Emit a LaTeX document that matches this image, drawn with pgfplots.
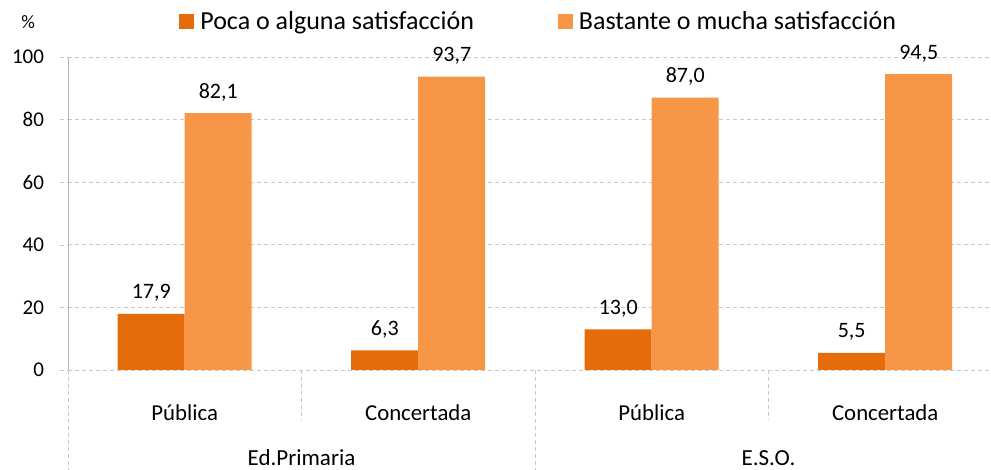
\documentclass[border=0pt]{standalone}
\usepackage{fontspec}
\setmainfont{Carlito}
\usepackage{pgfplots}
\pgfplotsset{compat=1.18}
\definecolor{poca}{RGB}{228,108,10}
\definecolor{mucha}{RGB}{247,150,70}
\definecolor{rejilla}{RGB}{200,200,200}
\definecolor{ejegris}{RGB}{180,180,180}
\tikzset{guiones/.style={dash pattern=on 2pt off 1.5pt}}

\begin{document}
\begin{tikzpicture}
\begin{axis}[
  name=ax,
  scale only axis,
  width=461.5pt, height=156.5pt,
  xmin=-0.5, xmax=3.453, ymin=0, ymax=100,
  clip=false,
  ybar=0pt, bar width=33.5pt,
  axis x line*=bottom, axis y line*=left,
  x axis line style={rejilla, guiones},
  y axis line style={ejegris},
  xtick={0,1,2,3},
  xticklabels={Pública,Concertada,Pública,Concertada},
  xtick style={draw=none},
  x tick label style={font=\fontsize{11.4}{13}\selectfont, anchor=base, yshift=-21.5pt},
  ytick={0,20,...,100},
  ymajorgrids, grid style={rejilla, guiones},
  ytick style={rejilla, guiones},
  tick align=outside, major tick length=4pt,
  y tick label style={font=\fontsize{10.5}{12}\selectfont, xshift=-4.5pt},
  /pgf/number format/assume math mode=true,
  nodes near coords={\pgfmathprintnumber[fixed,fixed zerofill,precision=1,use comma,assume math mode=true]{\pgfplotspointmeta}},
  nodes near coords style={font=\fontsize{11}{13}\selectfont, anchor=base, yshift=7.5pt, text=black},
  legend columns=2,
  legend style={at={(rel axis cs:0.511,1.112)}, anchor=center, draw=none,
    font=\fontsize{13}{15}\selectfont,
    /tikz/every odd column/.append style={column sep=1pt},
    /tikz/every even column/.append style={column sep=40pt}},
  legend cell align=left,
]
\addplot[fill=poca, draw=none,
  legend image code/.code={\fill[poca] (0pt,-3.75pt) rectangle (7.5pt,3.75pt);}]
  coordinates {(0,17.9) (1,6.3) (2,13.0) (3,5.5)};
\addplot[fill=mucha, draw=none,
  legend image code/.code={\fill[mucha] (0pt,-3.75pt) rectangle (7.5pt,3.75pt);}]
  coordinates {(0,82.1) (1,93.7) (2,87.0) (3,94.5)};
\legend{Poca o alguna satisfacción, Bastante o mucha satisfacción}

% separadores de categorias
\draw[rejilla, guiones] (axis cs:-0.5,0) -- (axis cs:-0.5,-32);
\draw[rejilla, guiones] (axis cs:0.5,0) -- (axis cs:0.5,-16);
\draw[rejilla, guiones] (axis cs:1.5,0) -- (axis cs:1.5,-32);
\draw[rejilla, guiones] (axis cs:2.5,0) -- (axis cs:2.5,-16);

\node[anchor=base, yshift=-48pt, font=\fontsize{11.5}{13}\selectfont] at (axis cs:0.5,0) {Ed.Primaria};
\node[anchor=base, yshift=-48pt, font=\fontsize{11.5}{13}\selectfont] at (axis cs:2.5,0) {E.S.O.};
\node[font=\fontsize{9.5}{11}\selectfont] at (axis cs:-0.671,111.2) {\%};
\end{axis}
\pgfresetboundingbox
\path[use as bounding box] ([shift={(-34pt,-50pt)}]ax.south west) rectangle ([shift={(0pt,28.5pt)}]ax.north east);
\end{tikzpicture}
\end{document}
